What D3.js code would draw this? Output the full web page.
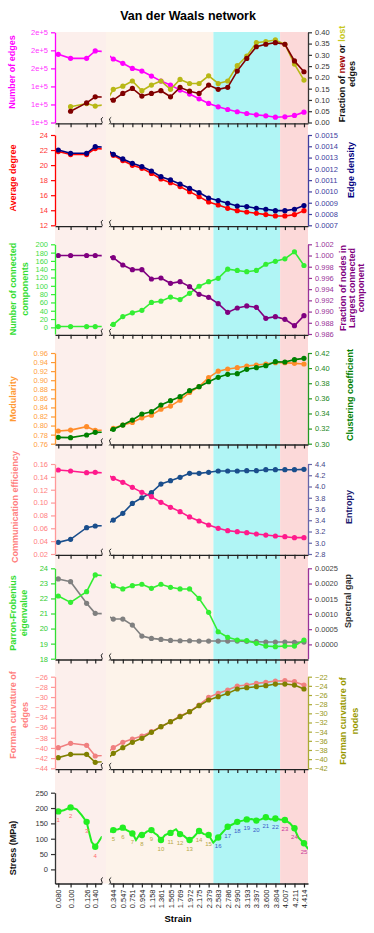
<!DOCTYPE html>
<html>
<head>
<meta charset="utf-8">
<script src="https://cdn.jsdelivr.net/npm/d3@7"></script>
<style>
  body { margin: 0; background: #fff; }
  svg text { font-family: 'Liberation Sans', Arial, sans-serif; }
</style>
</head>
<body>
<svg id="chart"></svg>
<script>
const w = 374;
const h = 933;

// strain of the 25 snapshots
const strain = [0.080, 0.100, 0.126, 0.140, 0.344, 0.547, 0.751, 0.954, 1.158, 1.361, 1.565, 1.769, 1.972, 2.175, 2.379, 2.583, 2.786, 2.990, 3.193, 3.397, 3.600, 3.804, 4.007, 4.211, 4.414];
const strainLabels = ['0.080', '0.100', '0.126', '0.140', '0.344', '0.547', '0.751', '0.954', '1.158', '1.361', '1.565', '1.769', '1.972', '2.175', '2.379', '2.583', '2.786', '2.990', '3.193', '3.397', '3.600', '3.804', '4.007', '4.211', '4.414'];
const phaseBounds = [2.481, 3.905];

const edges = [175600, 171100, 171100, 179300, 170400, 165600, 160000, 157000, 151500, 145900, 141500, 135900, 131500, 126300, 121100, 117400, 114400, 111900, 110000, 108500, 107400, 105900, 106300, 107800, 111500];
const edgeTicks = [100000, 120000, 140000, 160000, 180000, 200000];
const edgeTickLabels = ['1e+5', '1e+5', '1e+5', '2e+5', '2e+5', '2e+5'];
const fracNew = [null, 0.050, 0.087, 0.114, 0.099, 0.129, 0.151, 0.117, 0.129, 0.141, 0.114, 0.156, 0.139, 0.129, 0.166, 0.147, 0.156, 0.228, 0.284, 0.336, 0.347, 0.354, 0.347, 0.273, 0.225];
const fracLost = [null, 0.070, 0.084, 0.073, 0.147, 0.161, 0.184, 0.141, 0.166, 0.184, 0.147, 0.191, 0.173, 0.173, 0.207, 0.173, 0.184, 0.252, 0.295, 0.354, 0.359, 0.366, 0.347, 0.259, 0.188];
const avgDegree = [21.8, 21.4, 21.4, 22.2, 21.3, 20.6, 19.97, 19.57, 18.9, 18.15, 17.67, 17.14, 16.47, 15.81, 15.1, 14.7, 14.26, 13.95, 13.77, 13.6, 13.42, 13.24, 13.24, 13.42, 13.95];
const edgeDensity = [0.001367, 0.001338, 0.001338, 0.001397, 0.001329, 0.001288, 0.001249, 0.00122, 0.001181, 0.001131, 0.001102, 0.001066, 0.001028, 0.00099, 0.000942, 0.000919, 0.000895, 0.000871, 0.000866, 0.000851, 0.000842, 0.00083, 0.00083, 0.000842, 0.000875];
const components = [2, 2, 2, 2, 7, 26, 35, 41, 60, 63, 73, 67, 82, 99, 110, 118, 140, 137, 134, 137, 152, 159, 165, 182, 149];
const largestFrac = [1.0, 1.0, 1.0, 1.0, 0.99962, 0.99831, 0.99748, 0.99748, 0.99581, 0.99599, 0.99504, 0.99534, 0.99445, 0.99308, 0.99254, 0.99141, 0.98986, 0.99064, 0.991, 0.99076, 0.98879, 0.98909, 0.98862, 0.98748, 0.98927];
const modularity = [0.788, 0.790, 0.7975, 0.7894, 0.7938, 0.8012, 0.807, 0.817, 0.823, 0.836, 0.843, 0.856, 0.873, 0.886, 0.9056, 0.920, 0.9247, 0.9276, 0.9313, 0.9335, 0.9357, 0.9387, 0.9387, 0.9372, 0.9357];
const clustering = [0.3084, 0.308, 0.3115, 0.315, 0.319, 0.3247, 0.3313, 0.3393, 0.3424, 0.3512, 0.3569, 0.3622, 0.3702, 0.3754, 0.382, 0.3878, 0.3918, 0.3926, 0.3984, 0.4006, 0.4032, 0.4085, 0.4081, 0.4112, 0.4129];
const commEff = [0.1507, 0.1491, 0.1465, 0.147, 0.1377, 0.1315, 0.1237, 0.1159, 0.1092, 0.1004, 0.0926, 0.0859, 0.0776, 0.0713, 0.0651, 0.0599, 0.0563, 0.0547, 0.0532, 0.0511, 0.0495, 0.048, 0.0469, 0.0454, 0.0454];
const entropy = [3.007, 3.061, 3.268, 3.298, 3.404, 3.523, 3.70, 3.80, 3.89, 4.044, 4.104, 4.163, 4.234, 4.234, 4.252, 4.276, 4.276, 4.276, 4.281, 4.281, 4.299, 4.299, 4.299, 4.299, 4.305];
const pfEigen = [22.16, 21.74, 22.45, 23.56, 22.83, 22.63, 22.85, 22.94, 22.67, 22.94, 22.74, 22.63, 22.63, 22.0, 21.08, 19.79, 19.42, 19.24, 19.2, 19.02, 18.84, 18.8, 18.84, 18.84, 19.24];
const spectralGap = [0.00215, 0.00206, 0.00135, 0.00102, 0.000833, 0.000833, 0.000636, 0.000274, 0.000197, 0.000164, 0.000132, 0.00012, 0.00012, 0.00011, 0.00011, 0.00011, 0.00011, 0.00011, 0.0001, 0.000088, 0.000077, 0.000077, 0.000077, 0.000066, 0.000077];
const formanEdges = [-39.94, -39.09, -39.48, -41.58, -39.94, -38.89, -38.24, -37.65, -36.8, -35.82, -34.84, -33.72, -32.87, -31.56, -30.06, -29.27, -28.62, -27.83, -27.64, -27.31, -27.11, -26.85, -26.79, -26.98, -27.64];
const formanNodes = [-39.67, -38.95, -38.95, -40.69, -38.73, -37.49, -36.33, -35.45, -34.15, -32.91, -31.82, -30.73, -29.64, -28.33, -27.09, -26.36, -25.64, -24.69, -24.4, -24.18, -23.96, -23.6, -23.6, -23.82, -24.69];

// stress-strain curve (dense) and stress at the snapshots
const curveStrain = [0.0779, 0.080, 0.089, 0.100, 0.110, 0.118, 0.126, 0.1295, 0.134, 0.140, 0.1455, 0.1505, 0.2736, 0.344, 0.4507, 0.5446, 0.630, 0.758, 0.8285, 0.899, 0.9715, 1.057, 1.1487, 1.234, 1.283, 1.362, 1.4475, 1.554, 1.682, 1.7665, 1.852, 1.953, 2.0515, 2.173, 2.28, 2.3803, 2.478, 2.5788, 2.692, 2.786, 2.905, 2.991, 3.106, 3.191, 3.298, 3.39, 3.497, 3.597, 3.704, 3.802, 3.902, 4.009, 4.1155, 4.207, 4.293, 4.414, 4.506];
const curveStress = [188, 189, 193, 202, 196, 177, 155, 125, 90, 74, 90, 106, 123, 128, 131, 136, 128, 117, 96, 112, 112, 123, 128, 117, 112, 96, 112, 119, 131, 115, 109, 96, 104, 125, 115, 112, 87, 104, 123, 139, 148, 155, 159, 163, 164, 159, 163, 170, 163, 166, 163, 161, 150, 134, 104, 85, 66];
const stressPoints = [189, 202, 155, 74, 128, 136, 117, 112, 128, 96, 119, 115, 96, 125, 112, 104, 139, 155, 163, 159, 170, 166, 161, 134, 85];
const pointPhase = [0, 0, 0, 0, 1, 1, 1, 1, 1, 1, 1, 1, 1, 1, 1, 2, 2, 2, 2, 2, 2, 2, 3, 3, 3];
const phaseLabelColors = ['#ff6b6b', '#b8a848', '#3a5cc8', '#c8389a'];

const svg = d3.select('#chart').attr('width', w).attr('height', h);

const xLeft = d3.scaleLinear().domain([0.0747, 0.1505]).range([55, 101.7]);
const xRight = d3.scaleLinear().domain([0.2736, 4.5]).range([110, 308]);
const plotTop = 32;
const plotBottom = 883.5;

// backgrounds
svg.append('rect').attr('x', 55).attr('y', plotTop).attr('width', 51).attr('height', plotBottom - plotTop).attr('fill', '#fcefec');
svg.append('rect').attr('x', 106).attr('y', plotTop).attr('width', xRight(phaseBounds[0]) - 106).attr('height', plotBottom - plotTop).attr('fill', '#fdf3ea');
svg.append('rect').attr('x', xRight(phaseBounds[0])).attr('y', plotTop).attr('width', xRight(phaseBounds[1]) - xRight(phaseBounds[0])).attr('height', plotBottom - plotTop).attr('fill', '#b0f5f5');
svg.append('rect').attr('x', xRight(phaseBounds[1])).attr('y', plotTop).attr('width', 308 - xRight(phaseBounds[1])).attr('height', plotBottom - plotTop).attr('fill', '#fcd9d9');

const defs = svg.append('defs');
defs.append('clipPath').attr('id', 'clipL').append('rect').attr('x', 55).attr('y', 0).attr('width', 46.7).attr('height', h);
defs.append('clipPath').attr('id', 'clipR').append('rect').attr('x', 110).attr('y', 0).attr('width', 198).attr('height', h);

const segments = [
	{ x: xLeft, clip: 'clipL' },
	{ x: xRight, clip: 'clipR' },
];

svg
	.append('text')
	.attr('x', 188)
	.attr('y', 20)
	.attr('text-anchor', 'middle')
	.attr('font-size', '12.5px')
	.attr('font-weight', 'bold')
	.text('Van der Waals network');

const panels = [
	{
		top: 32.3, bottom: 122.5,
		left: { domain: [100000, 200000], ticks: edgeTicks, fmt: (d, i) => edgeTickLabels[i], color: '#ff00ff', tick: '#ff33ff' },
		right: { domain: [0, 0.4], ticks: d3.range(0, 0.401, 0.05), fmt: d3.format('.2f'), color: '#333', tick: '#333' },
		series: [
			{ data: edges, side: 'left', color: '#ff00ff' },
			{ data: fracLost, side: 'right', color: '#b8b816' },
			{ data: fracNew, side: 'right', color: '#800000' },
		],
		ltitle: { lines: ['Number of edges'], xs: [11.7], cy: 72, color: '#ff00ff' },
		rtitle: { lines: ['Fraction of new or lost', 'edges'], xs: [341.7, 352], cy: 74, color: '#111' },
	},
	{
		top: 135, bottom: 225.3,
		left: { domain: [12, 24], ticks: d3.range(12, 24.1, 2), fmt: d3.format('d'), color: '#ff0000', tick: '#ff3333' },
		right: { domain: [0.0007, 0.0015], ticks: d3.range(0.0007, 0.00151, 0.0001), fmt: d3.format('.4f'), color: '#4040a0', tick: '#4040a0' },
		series: [
			{ data: avgDegree, side: 'left', color: '#ff0000' },
			{ data: edgeDensity, side: 'right', color: '#000080' },
		],
		ltitle: { lines: ['Average degree'], xs: [12.7], cy: 178, color: '#ff0000' },
		rtitle: { lines: ['Edge density'], xs: [350.7], cy: 170, color: '#000080' },
	},
	{
		top: 244.3, bottom: 334,
		left: { domain: [-16, 200], ticks: d3.range(0, 201, 20), fmt: d3.format('d'), color: '#33ee33', tick: '#44dd44' },
		right: { domain: [0.986, 1.002], ticks: d3.range(0.986, 1.0021, 0.002), fmt: d3.format('.3f'), color: '#993399', tick: '#993399' },
		series: [
			{ data: components, side: 'left', color: '#33ee33' },
			{ data: largestFrac, side: 'right', color: '#800080' },
		],
		ltitle: { lines: ['Number of connected', 'components'], xs: [13.3, 25], cy: 289, color: '#33dd33' },
		rtitle: { lines: ['Fraction of nodes in', 'Largest connected', 'component'], xs: [343, 351.7, 360.4], cy: 288, color: '#800080' },
	},
	{
		top: 353, bottom: 443.7,
		left: { domain: [0.76, 0.96], ticks: d3.range(0.76, 0.961, 0.02), fmt: d3.format('.2f'), color: '#ff9933', tick: '#ffa040' },
		right: { domain: [0.3, 0.42], ticks: d3.range(0.3, 0.4201, 0.02), fmt: d3.format('.2f'), color: '#229922', tick: '#228822' },
		series: [
			{ data: modularity, side: 'left', color: '#ff8c2a' },
			{ data: clustering, side: 'right', color: '#008000' },
		],
		ltitle: { lines: ['Modularity'], xs: [13.3], cy: 399, color: '#ff9933' },
		rtitle: { lines: ['Clustering coefficient'], xs: [350], cy: 395, color: '#008000' },
	},
	{
		top: 464, bottom: 554,
		left: { domain: [0.02, 0.16], ticks: d3.range(0.02, 0.161, 0.02), fmt: d3.format('.2f'), color: '#ff9999', tick: '#ff8080' },
		right: { domain: [2.8, 4.4], ticks: d3.range(2.8, 4.41, 0.2), fmt: d3.format('.1f'), color: '#6666aa', tick: '#444488' },
		series: [
			{ data: entropy, side: 'right', color: '#1a4e8c' },
			{ data: commEff, side: 'left', color: '#ff1a8c' },
		],
		ltitle: { lines: ['Communication efficiency'], xs: [15], cy: 507, color: '#ff8080' },
		rtitle: { lines: ['Entropy'], xs: [349], cy: 507, color: '#1a1a70' },
	},
	{
		top: 568.3, bottom: 658.7,
		left: { domain: [18, 24], ticks: d3.range(18, 24.1, 1), fmt: d3.format('d'), color: '#33dd33', tick: '#33cc33' },
		right: { domain: [-0.00047, 0.0025], ticks: d3.range(0, 0.00251, 0.0005), fmt: d3.format('.4f'), color: '#993399', tick: '#444' },
		series: [
			{ data: spectralGap, side: 'right', color: '#808080' },
			{ data: pfEigen, side: 'left', color: '#33ee33' },
		],
		ltitle: { lines: ['Parron-Frobenius', 'eigenvalue'], xs: [12.7, 23.5], cy: 613, color: '#33dd33' },
		rtitle: { lines: ['Spectral gap'], xs: [348], cy: 601, color: '#333' },
	},
	{
		top: 676.7, bottom: 768.3,
		left: { domain: [-44, -26], ticks: d3.range(-44, -25.9, 2), fmt: d3.format('d'), color: '#ff9999', tick: '#ff7f7f' },
		right: { domain: [-42, -22], ticks: d3.range(-42, -21.9, 2), fmt: d3.format('d'), color: '#aaaa33', tick: '#999922' },
		series: [
			{ data: formanEdges, side: 'left', color: '#f08080' },
			{ data: formanNodes, side: 'right', color: '#808000' },
		],
		ltitle: { lines: ['Forman curvature of', 'edges'], xs: [13.3, 25], cy: 715, color: '#ff8080' },
		rtitle: { lines: ['Forman curvature of', 'nodes'], xs: [343.3, 355], cy: 721, color: '#999900' },
	},
];

const drawTitle = (t) => {
	t.lines.forEach((line, i) => {
		const txt = svg
			.append('text')
			.attr('transform', `translate(${t.xs[i]},${t.cy}) rotate(-90)`)
			.attr('dy', '0.35em')
			.attr('text-anchor', 'middle')
			.attr('font-size', '9px')
			.attr('font-weight', 'bold')
			.attr('fill', t.color);
		if (line === 'Fraction of new or lost') {
			txt.append('tspan').text('Fraction of ');
			txt.append('tspan').attr('fill', '#a00000').text('new');
			txt.append('tspan').text(' or ');
			txt.append('tspan').attr('fill', '#c8c820').text('lost');
		} else {
			txt.text(line);
		}
	});
};

const styleAxis = (g, color, tickColor) => {
	g.select('.domain').attr('stroke', color).attr('stroke-width', 1.3);
	g.selectAll('.tick line').attr('stroke', color).attr('stroke-width', 1.2);
	g.selectAll('.tick text').attr('fill', tickColor).attr('font-size', '7.5px').attr('font-family', "'Liberation Sans', Arial, sans-serif");
};

const drawXAxis = (y, withLabels) => {
	segments.forEach((seg, s) => {
		const vals = s === 0 ? strain.slice(0, 4) : strain.slice(4);
		const axis = d3
			.axisBottom(seg.x)
			.tickValues(vals)
			.tickSize(4)
			.tickSizeOuter(0)
			.tickFormat((d) => (withLabels ? strainLabels[strain.indexOf(d)] : ''));
		const g = svg.append('g').attr('transform', `translate(0,${y})`).call(axis);
		styleAxis(g, '#222', '#222');
		if (withLabels) {
			g.selectAll('.tick text')
				.attr('transform', 'rotate(-90)')
				.attr('text-anchor', 'end')
				.attr('x', -6)
				.attr('y', 0)
				.attr('dy', '0.35em');
		}
	});
	// break marks
	[101.7, 110].forEach((bx) => {
		svg
			.append('path')
			.attr('d', `M${bx + 1.2},${y - 6} Q${bx - 1.8},${y - 4.5} ${bx},${y - 2.5} Q${bx + 1.5},${y - 0.5} ${bx - 0.8},${y + 1}`)
			.attr('fill', 'none')
			.attr('stroke', '#222')
			.attr('stroke-width', 1);
	});
};

const drawSeries = (values, yScale, color, r) => {
	segments.forEach((seg) => {
		const g = svg.append('g').attr('clip-path', `url(#${seg.clip})`);
		const line = d3
			.line()
			.defined((d) => d != null)
			.x((d, i) => seg.x(strain[i]))
			.y((d) => yScale(d));
		g.append('path').attr('d', line(values)).attr('fill', 'none').attr('stroke', color).attr('stroke-width', 1.6);
		const dom = seg.x.domain();
		g.selectAll(null)
			.data(values.map((v, i) => ({ v, s: strain[i] })).filter((d) => d.v != null && d.s >= dom[0] && d.s <= dom[1]))
			.enter()
			.append('circle')
			.attr('cx', (d) => seg.x(d.s))
			.attr('cy', (d) => yScale(d.v))
			.attr('r', r)
			.attr('fill', color);
	});
};

panels.forEach((p) => {
	const yL = d3.scaleLinear().domain(p.left.domain).range([p.bottom, p.top]);
	const yR = d3.scaleLinear().domain(p.right.domain).range([p.bottom, p.top]);
	p.series.forEach((s) => drawSeries(s.data, s.side === 'left' ? yL : yR, s.color, 2.6));

	const gl = svg
		.append('g')
		.attr('transform', 'translate(55,0)')
		.call(d3.axisLeft(yL).tickValues(p.left.ticks).tickFormat(p.left.fmt).tickSize(4).tickSizeOuter(0));
	styleAxis(gl, p.left.color, p.left.tick);
	const gr = svg
		.append('g')
		.attr('transform', 'translate(308,0)')
		.call(d3.axisRight(yR).tickValues(p.right.ticks).tickFormat(p.right.fmt).tickSize(4).tickSizeOuter(0));
	styleAxis(gr, p.right.color, p.right.tick);

	drawXAxis(p.bottom + 0.8, false);
	drawTitle(p.ltitle);
	drawTitle(p.rtitle);
});

// stress panel
const stressTop = 792.7;
const yStress = d3.scaleLinear().domain([-46, 250]).range([plotBottom, stressTop]);
segments.forEach((seg) => {
	const g = svg.append('g').attr('clip-path', `url(#${seg.clip})`);
	const line = d3
		.line()
		.x((d, i) => seg.x(curveStrain[i]))
		.y((d) => yStress(d));
	g.append('path').attr('d', line(curveStress)).attr('fill', 'none').attr('stroke', '#22ee22').attr('stroke-width', 2);
	const dom = seg.x.domain();
	const pts = stressPoints.map((v, i) => ({ v, s: strain[i], i })).filter((d) => d.s >= dom[0] && d.s <= dom[1]);
	g.selectAll(null)
		.data(pts)
		.enter()
		.append('circle')
		.attr('cx', (d) => seg.x(d.s))
		.attr('cy', (d) => yStress(d.v))
		.attr('r', 3.2)
		.attr('fill', '#22ee22');
	svg
		.append('g')
		.selectAll(null)
		.data(pts)
		.enter()
		.append('text')
		.attr('x', (d) => seg.x(d.s))
		.attr('y', (d) => yStress(d.v) + 11)
		.attr('text-anchor', 'middle')
		.attr('font-size', '6px')
		.attr('fill', (d) => phaseLabelColors[pointPhase[d.i]])
		.text((d) => d.i + 1);
});

const gs = svg
	.append('g')
	.attr('transform', 'translate(55,0)')
	.call(d3.axisLeft(yStress).tickValues(d3.range(0, 251, 50)).tickFormat(d3.format('d')).tickSize(4).tickSizeOuter(0));
styleAxis(gs, '#333', '#333');
drawXAxis(plotBottom, true);
drawTitle({ lines: ['Stress (MPa)'], xs: [13.3], cy: 848, color: '#111' });

svg
	.append('text')
	.attr('x', 178)
	.attr('y', 922)
	.attr('text-anchor', 'middle')
	.attr('font-size', '9.5px')
	.attr('font-weight', 'bold')
	.text('Strain');
</script>
</body>
</html>
